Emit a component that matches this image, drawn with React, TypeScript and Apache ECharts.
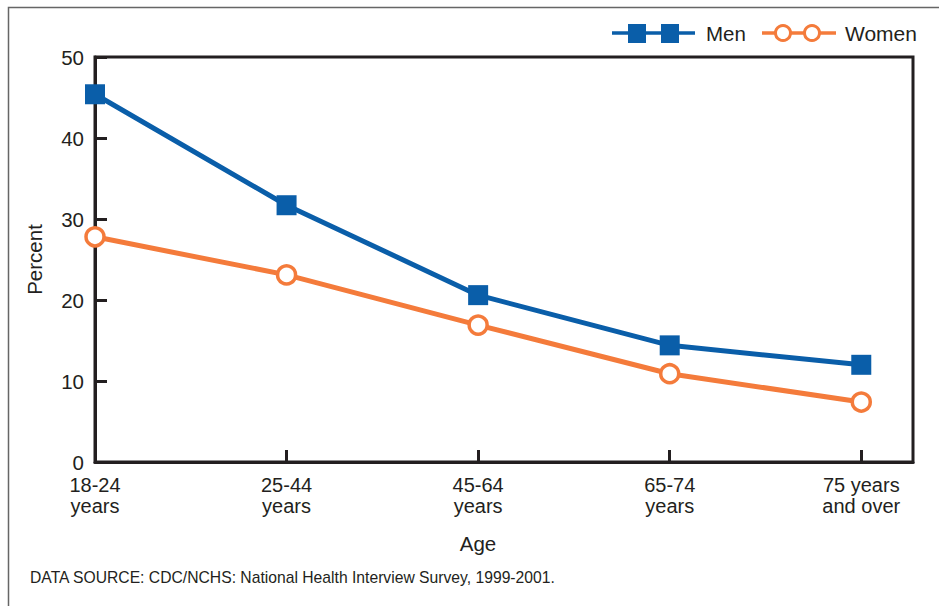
import React, { useEffect, useRef } from "react";
import * as echarts from "echarts";

const categories = ["18-24\nyears", "25-44\nyears", "45-64\nyears", "65-74\nyears", "75 years\nand over"];
const menValues = [45.4, 31.7, 20.6, 14.4, 12.0];
const womenValues = [27.8, 23.1, 16.9, 10.9, 7.4];
const yTicks = [0, 10, 20, 30, 40, 50];

const BLUE = "#0a5ea9";
const ORANGE = "#f47b3b";
const INK = "#231f20";
const FONT = "'Liberation Sans', Arial, Helvetica, sans-serif";

export default function App() {
  const ref = useRef<HTMLDivElement>(null);
  useEffect(() => {
    if (!ref.current) return;
    const chart = echarts.init(ref.current, undefined, { renderer: "svg" });
    const toPts = (arr: number[]) => arr.map((v, i) => [i, v]);
    chart.setOption({
      animation: false,
      textStyle: { fontFamily: FONT },
      grid: {
        left: 95,
        top: 57,
        right: 26,
        bottom: 144,
        show: true,
        borderColor: INK,
        borderWidth: 3,
        backgroundColor: "transparent",
      },
      xAxis: {
        type: "value",
        min: 0,
        max: 4.27,
        interval: 1,
        axisLine: { show: true, lineStyle: { color: INK, width: 3 } },
        axisTick: { show: true, inside: true, length: 12, lineStyle: { color: INK, width: 3 } },
        splitLine: { show: false },
        axisLabel: {
          margin: 12,
          fontSize: 20,
          lineHeight: 21,
          color: INK,
          fontFamily: FONT,
          showMaxLabel: false,
          formatter: (v: number) => (Number.isInteger(v) && categories[v] !== undefined ? categories[v] : ""),
        },
      },
      yAxis: {
        type: "value",
        min: yTicks[0],
        max: yTicks[yTicks.length - 1],
        interval: 10,
        name: "Percent",
        nameLocation: "middle",
        nameGap: 50,
        nameRotate: 90,
        nameTextStyle: { fontSize: 20.5, color: INK, fontFamily: FONT },
        axisLine: { show: true, lineStyle: { color: INK, width: 3 } },
        axisTick: { show: true, inside: true, length: 12, lineStyle: { color: INK, width: 3 } },
        splitLine: { show: false },
        axisLabel: { margin: 11, fontSize: 20.5, color: INK, fontFamily: FONT },
      },
      series: [
        {
          name: "Men",
          type: "line",
          data: toPts(menValues),
          symbol: "rect",
          symbolSize: 20,
          lineStyle: { color: BLUE, width: 5 },
          itemStyle: { color: BLUE },
          z: 3,
        },
        {
          name: "Women",
          type: "line",
          data: toPts(womenValues),
          symbol: "circle",
          symbolSize: 18,
          lineStyle: { color: ORANGE, width: 5 },
          itemStyle: { color: "#ffffff", borderColor: ORANGE, borderWidth: 3.5 },
          z: 2,
        },
      ],
      graphic: [
        {
          type: "rect",
          shape: { x: 8.5, y: 7.5, width: 1000, height: 700 },
          style: { fill: "none", stroke: "#666666", lineWidth: 1.5 },
          silent: true,
        },
        { type: "line", shape: { x1: 612, y1: 33, x2: 695, y2: 33 }, style: { stroke: BLUE, lineWidth: 3.5 } },
        { type: "rect", shape: { x: 628, y: 24, width: 18, height: 19 }, style: { fill: BLUE } },
        { type: "rect", shape: { x: 661, y: 24, width: 18, height: 19 }, style: { fill: BLUE } },
        {
          type: "text",
          x: 706,
          y: 33,
          style: { text: "Men", fontSize: 20.5, fill: INK, fontFamily: FONT, verticalAlign: "middle" },
        },
        { type: "line", shape: { x1: 762, y1: 33, x2: 836, y2: 33 }, style: { stroke: ORANGE, lineWidth: 3.5 } },
        { type: "circle", shape: { cx: 783, cy: 33, r: 7.5 }, style: { fill: "#ffffff", stroke: ORANGE, lineWidth: 3 } },
        { type: "circle", shape: { cx: 812, cy: 33, r: 7.5 }, style: { fill: "#ffffff", stroke: ORANGE, lineWidth: 3 } },
        {
          type: "text",
          x: 845,
          y: 33,
          style: { text: "Women", fontSize: 21, fill: INK, fontFamily: FONT, verticalAlign: "middle" },
        },
        {
          type: "text",
          x: 478,
          y: 543,
          style: { text: "Age", fontSize: 20.5, fill: INK, fontFamily: FONT, align: "center", verticalAlign: "middle" },
        },
        {
          type: "text",
          x: 30,
          y: 577,
          style: {
            text: "DATA SOURCE: CDC/NCHS: National Health Interview Survey, 1999-2001.",
            fontSize: 15.7,
            fill: INK,
            fontFamily: FONT,
            verticalAlign: "middle",
          },
        },
      ],
    });
    return () => chart.dispose();
  }, []);
  return (
    <div
      ref={ref}
      style={{ width: 939, height: 606, position: "absolute", left: 0, top: 0, background: "#ffffff" }}
    />
  );
}
